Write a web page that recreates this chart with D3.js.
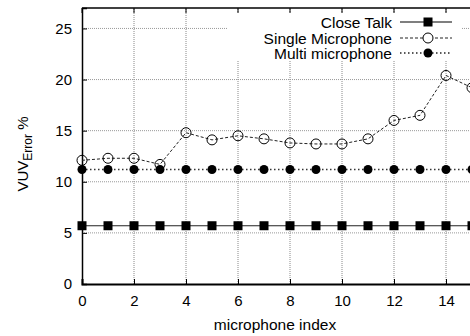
<!DOCTYPE html>
<html>
<head>
<meta charset="utf-8">
<script src="https://cdn.jsdelivr.net/npm/d3@7"></script>
<style>
  body { margin: 0; background: #fff; }
  svg text { font-family: "Liberation Sans", Arial, sans-serif; fill: #000; }
</style>
</head>
<body>
<div id="chart"></div>
<script>
// data
const micIndex = [0, 1, 2, 3, 4, 5, 6, 7, 8, 9, 10, 11, 12, 13, 14, 15];
const closeTalk = [5.7, 5.7, 5.7, 5.7, 5.7, 5.7, 5.7, 5.7, 5.7, 5.7, 5.7, 5.7, 5.7, 5.7, 5.7, 5.7];
const singleMic = [12.1, 12.3, 12.3, 11.7, 14.8, 14.1, 14.5, 14.2, 13.8, 13.7, 13.7, 14.2, 16.0, 16.5, 20.4, 19.2];
const multiMic = [11.2, 11.2, 11.2, 11.2, 11.2, 11.2, 11.2, 11.2, 11.2, 11.2, 11.2, 11.2, 11.2, 11.2, 11.2, 11.2];
const xTicks = [0, 2, 4, 6, 8, 10, 12, 14];
const yTicks = [0, 5, 10, 15, 20, 25];
const seriesNames = ["Close Talk", "Single Microphone", "Multi microphone"];

const W = 470, H = 336;
const margin = { top: 8, left: 82, bottom: 52 };
// plot area runs past the right edge of the window (clipped like the reference)
const x = d3.scaleLinear().domain([0, 16]).range([margin.left, margin.left + 26 * 16]);
const y = d3.scaleLinear().domain([0, 27]).range([H - margin.bottom, margin.top]);

const svg = d3.select("#chart").append("svg")
  .attr("width", W).attr("height", H);

// grid
svg.append("g").selectAll("line").data(xTicks.slice(1)).join("line")
  .attr("x1", d => x(d)).attr("x2", d => x(d))
  .attr("y1", y(0)).attr("y2", y(27))
  .attr("stroke", "#888").attr("stroke-width", 1).attr("stroke-dasharray", "1,1");
svg.append("g").selectAll("line").data(yTicks.slice(1)).join("line")
  .attr("x1", x(0)).attr("x2", x(16))
  .attr("y1", d => y(d)).attr("y2", d => y(d))
  .attr("stroke", "#999").attr("stroke-width", 1).attr("stroke-dasharray", "1,1");

// axes
const xAxis = svg.append("g")
  .attr("transform", `translate(0,${y(0)})`)
  .call(d3.axisBottom(x).tickValues(xTicks).tickSize(-5).tickPadding(11));
const yAxis = svg.append("g")
  .attr("transform", `translate(${x(0)},0)`)
  .call(d3.axisLeft(y).tickValues(yTicks).tickSize(-5).tickPadding(10));
[xAxis, yAxis].forEach(a => {
  a.select(".domain").attr("stroke", "#000");
  a.selectAll("text").style("font-size", "15px")
    .style("font-family", "'Liberation Sans', Arial, sans-serif");
  a.selectAll(".tick line").attr("stroke", "#000");
});
xAxis.select(".domain").attr("stroke-width", 2);
yAxis.select(".domain").attr("stroke-width", 1.5);

// top border with mirror ticks
svg.append("line")
  .attr("x1", x(0)).attr("x2", x(16)).attr("y1", y(27)).attr("y2", y(27))
  .attr("stroke", "#000").attr("stroke-width", 1.5);
svg.append("g").selectAll("line").data(xTicks).join("line")
  .attr("x1", d => x(d)).attr("x2", d => x(d))
  .attr("y1", y(27)).attr("y2", y(27) + 5)
  .attr("stroke", "#000");

// legend box (white background hides the grid)
const lg = svg.append("g");
lg.append("rect").attr("x", 227).attr("y", 13).attr("width", 235).attr("height", 48)
  .attr("fill", "#fff");

const idx = d3.range(micIndex.length);

// close talk
svg.append("path")
  .attr("d", d3.line().x(i => x(micIndex[i])).y(i => y(closeTalk[i]))(idx))
  .attr("fill", "none").attr("stroke", "#222").attr("stroke-width", 1.2);
svg.append("g").selectAll("rect").data(idx).join("rect")
  .attr("x", i => x(micIndex[i]) - 4.5).attr("y", i => y(closeTalk[i]) - 4.5)
  .attr("width", 9).attr("height", 9).attr("fill", "#000");

// multi microphone
svg.append("path")
  .attr("d", d3.line().x(i => x(micIndex[i])).y(i => y(multiMic[i]))(idx))
  .attr("fill", "none").attr("stroke", "#333").attr("stroke-width", 1.5)
  .attr("stroke-dasharray", "1.5,2.5");
svg.append("g").selectAll("circle").data(idx).join("circle")
  .attr("cx", i => x(micIndex[i])).attr("cy", i => y(multiMic[i]))
  .attr("r", 4.5).attr("fill", "#000");

// single microphone
svg.append("path")
  .attr("d", d3.line().x(i => x(micIndex[i])).y(i => y(singleMic[i]))(idx))
  .attr("fill", "none").attr("stroke", "#222").attr("stroke-width", 1)
  .attr("stroke-dasharray", "3,2");
svg.append("g").selectAll("circle").data(idx).join("circle")
  .attr("cx", i => x(micIndex[i])).attr("cy", i => y(singleMic[i]))
  .attr("r", 5).attr("fill", "none").attr("stroke", "#000").attr("stroke-width", 1);

// legend entries
const rows = [22, 38, 53];
seriesNames.forEach((name, k) => {
  const ry = rows[k];
  lg.append("text").attr("x", 392).attr("y", ry + 5.5).attr("text-anchor", "end")
    .style("font-size", "15.5px").text(name);
  const ln = lg.append("line").attr("x1", 400).attr("x2", 452)
    .attr("y1", ry).attr("y2", ry).attr("stroke", "#222");
  if (k === 0) {
    ln.attr("stroke", "#555").attr("stroke-width", 1.5);
    lg.append("rect").attr("x", 423.5).attr("y", ry - 4.5).attr("width", 9).attr("height", 9).attr("fill", "#000");
  } else if (k === 1) {
    ln.attr("stroke-dasharray", "3,2");
    lg.append("circle").attr("cx", 428).attr("cy", ry).attr("r", 5)
      .attr("fill", "#fff").attr("stroke", "#000");
  } else {
    ln.attr("stroke-dasharray", "1.5,2.5").attr("stroke-width", 1.5);
    lg.append("circle").attr("cx", 428).attr("cy", ry).attr("r", 4.5).attr("fill", "#000");
  }
});

// axis titles
svg.append("text").attr("x", 275).attr("y", 330).attr("text-anchor", "middle")
  .style("font-size", "15.5px").text("microphone index");
const yl = svg.append("text")
  .attr("transform", "translate(28,154) rotate(-90)")
  .attr("text-anchor", "middle").style("font-size", "15px");
yl.append("tspan").text("VUV");
yl.append("tspan").attr("dy", 4).style("font-size", "12px").text("Error");
yl.append("tspan").attr("dy", -4).text(" %");
</script>
</body>
</html>
